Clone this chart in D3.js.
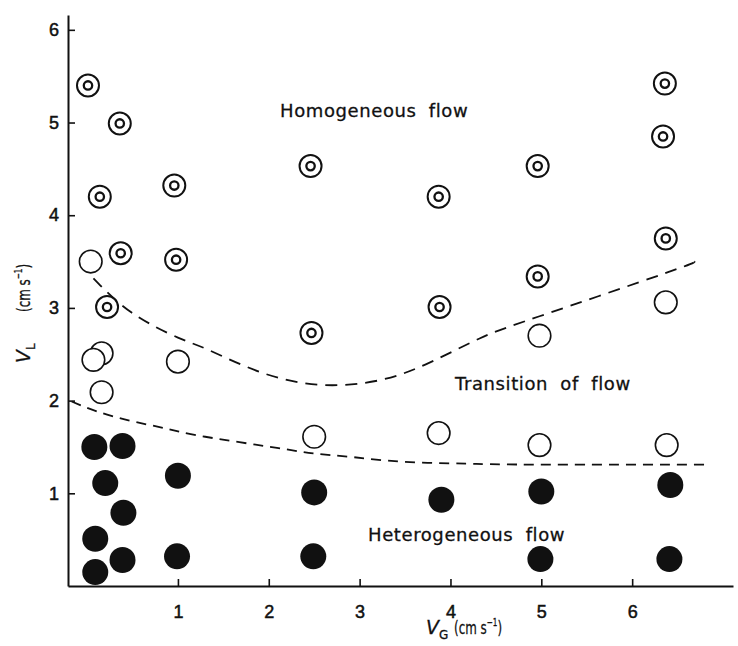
<!DOCTYPE html>
<html>
<head>
<meta charset="utf-8">
<script src="https://d3js.org/d3.v7.min.js"></script>
<style>
  body { margin: 0; background: #fff; }
  svg { display: block; font-family: "DejaVu Sans", sans-serif; }
  .axis path, .axis line { stroke: #111; }
  .axis path { stroke-width: 2; }
  .axis line { stroke-width: 1.6; }
  .axis text { font-size: 18px; fill: #111; stroke: #111; stroke-width: 0.5px; }
  .region { font-size: 18px; fill: #111; stroke: #111; stroke-width: 0.3px; letter-spacing: 0.6px; word-spacing: 6px; }
  .title { font-size: 18px; fill: #111; stroke: #111; stroke-width: 0.3px; }
</style>
</head>
<body>
<div id="chart"></div>
<script>
// V_G / V_L flow regime map

// homogeneous flow (double circles)
var homX = [0.01, 0.36, 0.14, 0.96, 0.37, 0.98, 0.22, 2.46, 3.87, 3.88, 2.47, 6.36, 6.34, 4.96, 6.37, 4.96];
var homY = [5.40, 4.99, 4.20, 4.32, 3.59, 3.52, 3.01, 4.53, 4.20, 3.01, 2.73, 5.42, 4.85, 4.53, 3.75, 3.34];

// transition (open circles)
var transX = [0.04, 0.16, 0.07, 1.00, 0.16, 2.50, 3.87, 4.98, 6.38, 6.37, 4.98];
var transY = [3.50, 2.51, 2.44, 2.42, 2.09, 1.61, 1.65, 1.52, 1.52, 3.06, 2.70];

// heterogeneous flow (filled circles)
var hetX = [0.08, 0.39, 0.20, 1.00, 0.40, 0.09, 0.39, 0.09, 0.99, 2.50, 3.90, 2.49, 5.00, 6.42, 4.99, 6.41];
var hetY = [1.50, 1.51, 1.11, 1.19, 0.79, 0.51, 0.28, 0.15, 0.32, 1.01, 0.93, 0.32, 1.02, 1.09, 0.29, 0.29];

// dashed regime boundaries
var upperX = [0.07, 0.49, 1.00, 1.33, 1.90, 2.56, 3.22, 3.77, 4.32, 4.98, 6.38, 6.68];
var upperY = [3.32, 2.95, 2.68, 2.55, 2.31, 2.17, 2.22, 2.41, 2.67, 2.91, 3.38, 3.50];
var lowerX = [-0.17, 0.12, 0.49, 0.86, 1.30, 2.09, 2.49, 2.93, 3.48, 4.17, 4.87, 6.83];
var lowerY = [1.99, 1.88, 1.78, 1.70, 1.61, 1.49, 1.43, 1.39, 1.34, 1.32, 1.31, 1.31];

var xTicks = [1, 2, 3, 4, 5, 6];
var yTicks = [1, 2, 3, 4, 5, 6];

var width = 738, height = 646;

var svg = d3.select('#chart').append('svg')
  .attr('width', width)
  .attr('height', height);

var x = d3.scaleLinear().domain([-0.21, 7.11]).range([68, 733]);
var y = d3.scaleLinear().domain([0, 6.16]).range([586, 15]);

// axes, ticks pointing inward
svg.append('g')
  .attr('class', 'axis')
  .attr('transform', 'translate(0,' + y(0) + ')')
  .call(d3.axisBottom(x).tickValues(xTicks).tickSizeInner(-7).tickSizeOuter(0).tickPadding(19).tickFormat(d3.format('d')));

svg.append('g')
  .attr('class', 'axis')
  .attr('transform', 'translate(' + x.range()[0] + ',0)')
  .call(d3.axisLeft(y).tickValues(yTicks).tickSizeInner(-7).tickSizeOuter(0).tickPadding(9).tickFormat(d3.format('d')));

// boundaries
var line = d3.line()
  .x(function(d) { return x(d[0]); })
  .y(function(d) { return y(d[1]); })
  .curve(d3.curveNatural);

svg.append('path')
  .datum(d3.zip(upperX, upperY))
  .attr('d', line)
  .attr('fill', 'none')
  .attr('stroke', '#111')
  .attr('stroke-width', 1.8)
  .attr('stroke-dasharray', '12,8');

svg.append('path')
  .datum(d3.zip(lowerX, lowerY))
  .attr('d', line)
  .attr('fill', 'none')
  .attr('stroke', '#111')
  .attr('stroke-width', 1.8)
  .attr('stroke-dasharray', '10,7');

// markers
var hom = svg.append('g').selectAll('g')
  .data(d3.zip(homX, homY))
  .join('g')
  .attr('transform', function(d) { return 'translate(' + x(d[0]) + ',' + y(d[1]) + ')'; });
hom.append('circle').attr('r', 11).attr('fill', '#fff').attr('stroke', '#111').attr('stroke-width', 2);
hom.append('circle').attr('r', 4.2).attr('fill', 'none').attr('stroke', '#111').attr('stroke-width', 2.3);

svg.append('g').selectAll('circle')
  .data(d3.zip(transX, transY))
  .join('circle')
  .attr('cx', function(d) { return x(d[0]); })
  .attr('cy', function(d) { return y(d[1]); })
  .attr('r', 11.3)
  .attr('fill', '#fff')
  .attr('stroke', '#111')
  .attr('stroke-width', 1.6);

svg.append('g').selectAll('circle')
  .data(d3.zip(hetX, hetY))
  .join('circle')
  .attr('cx', function(d) { return x(d[0]); })
  .attr('cy', function(d) { return y(d[1]); })
  .attr('r', 13)
  .attr('fill', '#111');

// region labels
svg.append('text').attr('class', 'region').attr('x', 280).attr('y', 117).text('Homogeneous flow');
svg.append('text').attr('class', 'region').attr('x', 455).attr('y', 390).text('Transition of flow');
svg.append('text').attr('class', 'region').attr('x', 368).attr('y', 541).text('Heterogeneous flow');

// axis titles: symbol, then a narrowed unit
function axisTitle(g, sym, sub, unitAt) {
  var v = g.append('text').attr('class', 'title');
  v.append('tspan').attr('font-style', 'italic').attr('font-size', '19px').text(sym);
  v.append('tspan').attr('font-size', '12px').attr('dy', 5).text(sub);
  var u = g.append('g').attr('transform', 'translate(' + unitAt + ',0) scale(0.66,1)')
    .append('text').attr('class', 'title');
  u.append('tspan').text('(cm s');
  u.append('tspan').attr('font-size', '11px').attr('dy', -8).text('−1');
  u.append('tspan').attr('dy', 8).text(')');
}

axisTitle(svg.append('g').attr('transform', 'translate(426,634)'), 'V', 'G', 28);
axisTitle(svg.append('g').attr('transform', 'translate(30,363) rotate(-90)'), 'V', 'L', 51);
</script>
</body>
</html>
